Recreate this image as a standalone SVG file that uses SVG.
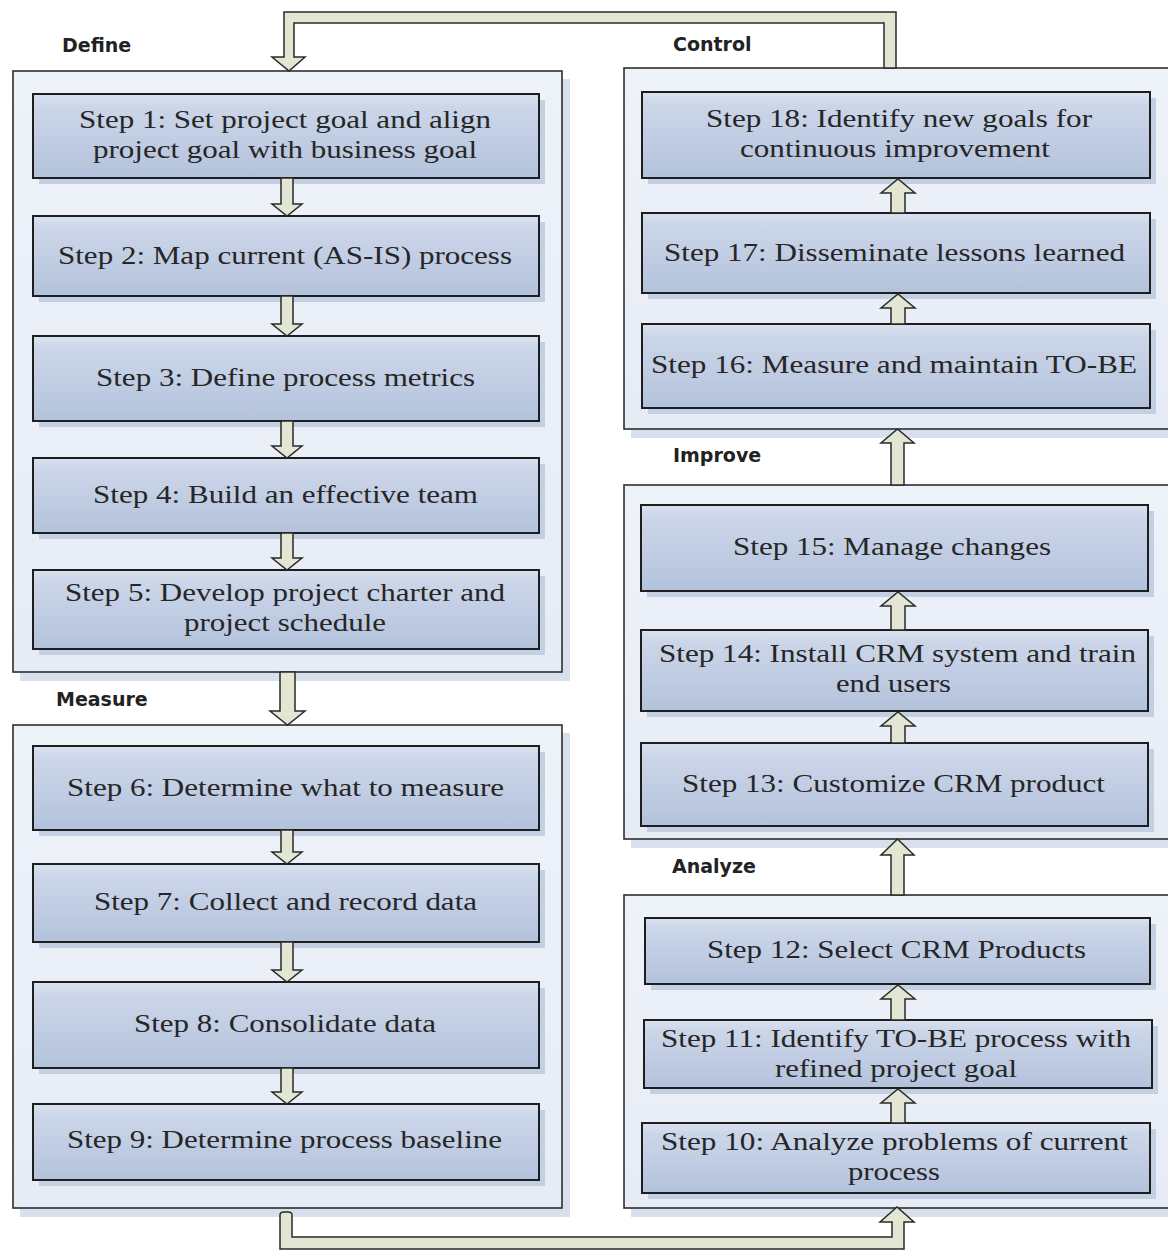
<svg xmlns="http://www.w3.org/2000/svg" width="1168" height="1250" viewBox="0 0 1168 1250">
<defs>
<linearGradient id="gStep" x1="0" y1="0" x2="0" y2="1">
<stop offset="0" stop-color="#dae2ef"/>
<stop offset="0.15" stop-color="#ccd6e9"/>
<stop offset="1" stop-color="#b3c2dc"/>
</linearGradient>
<linearGradient id="gCont" x1="0" y1="0" x2="0" y2="1">
<stop offset="0" stop-color="#eef2f9"/>
<stop offset="1" stop-color="#e6ecf6"/>
</linearGradient>
<style>
.cont{fill:url(#gCont);stroke:#2e2e2e;stroke-width:1.6}
.cshadow{fill:#d8e0ee}
.step{fill:url(#gStep);stroke:#1e1e1e;stroke-width:2}
.sshadow{fill:#c3cfe3}
.st{font-family:"Liberation Serif","Times New Roman",serif;font-size:26px;fill:#262626}
.lb{font-family:"DejaVu Sans","Verdana",sans-serif;font-weight:bold;font-size:19px;fill:#222}
.arr{fill:#e2e6d3;stroke:#2a2a2a;stroke-width:1.5;stroke-linejoin:miter}
</style>
</defs>
<rect width="1168" height="1250" fill="#ffffff"/>

<!-- phase containers -->
<g id="define">
<rect class="cshadow" x="20" y="79" width="550" height="602"/>
<rect class="cont" x="13" y="71" width="549" height="601"/>
<text class="lb" x="62" y="52">Define</text>
</g>
<g id="measure">
<rect class="cshadow" x="20" y="733" width="550" height="484"/>
<rect class="cont" x="13" y="725" width="549" height="483"/>
<text class="lb" x="56" y="706">Measure</text>
</g>
<g id="control">
<rect class="cshadow" x="631" y="76" width="560" height="362"/>
<rect class="cont" x="624" y="68" width="560" height="361"/>
<text class="lb" x="673" y="51">Control</text>
</g>
<g id="improve">
<rect class="cshadow" x="631" y="493" width="560" height="355"/>
<rect class="cont" x="624" y="485" width="560" height="354"/>
<text class="lb" x="673" y="462">Improve</text>
</g>
<g id="analyze">
<rect class="cshadow" x="631" y="903" width="560" height="314"/>
<rect class="cont" x="624" y="895" width="560" height="313"/>
<text class="lb" x="672" y="873">Analyze</text>
</g>

<!-- steps, left column -->
<g id="step1">
<rect class="sshadow" x="39" y="100" width="506" height="84"/>
<rect class="step" x="33" y="94" width="506" height="84"/>
<text class="st" x="79" y="128" textLength="412" lengthAdjust="spacingAndGlyphs">Step 1: Set project goal and align</text>
<text class="st" x="93" y="158" textLength="384" lengthAdjust="spacingAndGlyphs">project goal with business goal</text>
</g>
<g id="step2">
<rect class="sshadow" x="39" y="222" width="506" height="80"/>
<rect class="step" x="33" y="216" width="506" height="80"/>
<text class="st" x="58" y="264" textLength="454" lengthAdjust="spacingAndGlyphs">Step 2: Map current (AS-IS) process</text>
</g>
<g id="step3">
<rect class="sshadow" x="39" y="342" width="506" height="85"/>
<rect class="step" x="33" y="336" width="506" height="85"/>
<text class="st" x="96" y="386" textLength="379" lengthAdjust="spacingAndGlyphs">Step 3: Define process metrics</text>
</g>
<g id="step4">
<rect class="sshadow" x="39" y="464" width="506" height="75"/>
<rect class="step" x="33" y="458" width="506" height="75"/>
<text class="st" x="93" y="503" textLength="385" lengthAdjust="spacingAndGlyphs">Step 4: Build an effective team</text>
</g>
<g id="step5">
<rect class="sshadow" x="39" y="576" width="506" height="79"/>
<rect class="step" x="33" y="570" width="506" height="79"/>
<text class="st" x="65" y="601" textLength="440" lengthAdjust="spacingAndGlyphs">Step 5: Develop project charter and</text>
<text class="st" x="184" y="631" textLength="202" lengthAdjust="spacingAndGlyphs">project schedule</text>
</g>
<g id="step6">
<rect class="sshadow" x="39" y="752" width="506" height="84"/>
<rect class="step" x="33" y="746" width="506" height="84"/>
<text class="st" x="67" y="796" textLength="437" lengthAdjust="spacingAndGlyphs">Step 6: Determine what to measure</text>
</g>
<g id="step7">
<rect class="sshadow" x="39" y="870" width="506" height="78"/>
<rect class="step" x="33" y="864" width="506" height="78"/>
<text class="st" x="94" y="910" textLength="383" lengthAdjust="spacingAndGlyphs">Step 7: Collect and record data</text>
</g>
<g id="step8">
<rect class="sshadow" x="39" y="988" width="506" height="86"/>
<rect class="step" x="33" y="982" width="506" height="86"/>
<text class="st" x="134" y="1032" textLength="302" lengthAdjust="spacingAndGlyphs">Step 8: Consolidate data</text>
</g>
<g id="step9">
<rect class="sshadow" x="39" y="1110" width="506" height="76"/>
<rect class="step" x="33" y="1104" width="506" height="76"/>
<text class="st" x="67" y="1148" textLength="435" lengthAdjust="spacingAndGlyphs">Step 9: Determine process baseline</text>
</g>

<!-- steps, right column -->
<g id="step18">
<rect class="sshadow" x="648" y="98" width="508" height="86"/>
<rect class="step" x="642" y="92" width="508" height="86"/>
<text class="st" x="706" y="127" textLength="386" lengthAdjust="spacingAndGlyphs">Step 18: Identify new goals for</text>
<text class="st" x="740" y="157" textLength="310" lengthAdjust="spacingAndGlyphs">continuous improvement</text>
</g>
<g id="step17">
<rect class="sshadow" x="648" y="219" width="508" height="80"/>
<rect class="step" x="642" y="213" width="508" height="80"/>
<text class="st" x="664" y="261" textLength="461" lengthAdjust="spacingAndGlyphs">Step 17: Disseminate lessons learned</text>
</g>
<g id="step16">
<rect class="sshadow" x="648" y="330" width="508" height="84"/>
<rect class="step" x="642" y="324" width="508" height="84"/>
<text class="st" x="651" y="373" textLength="486" lengthAdjust="spacingAndGlyphs">Step 16: Measure and maintain TO-BE</text>
</g>
<g id="step15">
<rect class="sshadow" x="647" y="511" width="507" height="86"/>
<rect class="step" x="641" y="505" width="507" height="86"/>
<text class="st" x="733" y="555" textLength="318" lengthAdjust="spacingAndGlyphs">Step 15: Manage changes</text>
</g>
<g id="step14">
<rect class="sshadow" x="647" y="636" width="507" height="81"/>
<rect class="step" x="641" y="630" width="507" height="81"/>
<text class="st" x="659" y="662" textLength="477" lengthAdjust="spacingAndGlyphs">Step 14: Install CRM system and train</text>
<text class="st" x="836" y="692" textLength="115" lengthAdjust="spacingAndGlyphs">end users</text>
</g>
<g id="step13">
<rect class="sshadow" x="647" y="749" width="507" height="83"/>
<rect class="step" x="641" y="743" width="507" height="83"/>
<text class="st" x="682" y="792" textLength="423" lengthAdjust="spacingAndGlyphs">Step 13: Customize CRM product</text>
</g>
<g id="step12">
<rect class="sshadow" x="651" y="924" width="505" height="66"/>
<rect class="step" x="645" y="918" width="505" height="66"/>
<text class="st" x="707" y="958" textLength="379" lengthAdjust="spacingAndGlyphs">Step 12: Select CRM Products</text>
</g>
<g id="step11">
<rect class="sshadow" x="650" y="1026" width="508" height="68"/>
<rect class="step" x="644" y="1020" width="508" height="68"/>
<text class="st" x="661" y="1047" textLength="470" lengthAdjust="spacingAndGlyphs">Step 11: Identify TO-BE process with</text>
<text class="st" x="775" y="1077" textLength="242" lengthAdjust="spacingAndGlyphs">refined project goal</text>
</g>
<g id="step10">
<rect class="sshadow" x="648" y="1129" width="508" height="70"/>
<rect class="step" x="642" y="1123" width="508" height="70"/>
<text class="st" x="661" y="1150" textLength="467" lengthAdjust="spacingAndGlyphs">Step 10: Analyze problems of current</text>
<text class="st" x="848" y="1180" textLength="92" lengthAdjust="spacingAndGlyphs">process</text>
</g>

<!-- connectors -->
<g id="connectors">
<!-- top loop: Control to Define -->
<path class="arr" d="M884,68 L884,23 L294,23 L294,57 L305,57 L289,71 L272,57 L284,57 L284,12 L896,12 L896,68 Z"/>
<!-- bottom loop: Measure to Analyze -->
<path class="arr" d="M280,1215 Q280,1212 284,1212 L288,1212 Q292,1212 292,1215 L292,1237 L892,1237 L892,1222 L880,1222 L897,1207 L914,1222 L904,1222 L904,1249 L280,1249 Z"/>
<!-- Define to Measure -->
<path class="arr" d="M280,672 L295,672 L295,711 L305,711 L287.5,725 L270,711 L280,711 Z"/>
<!-- Improve to Control -->
<path class="arr" d="M891,485 L904,485 L904,443 L914,443 L897.5,429 L881,443 L891,443 Z"/>
<!-- Analyze to Improve -->
<path class="arr" d="M891,895 L904,895 L904,855 L914,855 L897.5,839 L881,855 L891,855 Z"/>
<!-- left column down arrows -->
<path class="arr" d="M281,178 L293,178 L293,204 L302,204 L287,216 L272,204 L281,204 Z"/>
<path class="arr" d="M281,296 L293,296 L293,324 L302,324 L287,336 L272,324 L281,324 Z"/>
<path class="arr" d="M281,421 L293,421 L293,446 L302,446 L287,458 L272,446 L281,446 Z"/>
<path class="arr" d="M281,533 L293,533 L293,558 L302,558 L287,570 L272,558 L281,558 Z"/>
<path class="arr" d="M281,830 L293,830 L293,852 L302,852 L287,864 L272,852 L281,852 Z"/>
<path class="arr" d="M281,942 L293,942 L293,970 L302,970 L287,982 L272,970 L281,970 Z"/>
<path class="arr" d="M281,1068 L293,1068 L293,1092 L302,1092 L287,1104 L272,1092 L281,1092 Z"/>
<!-- right column up arrows -->
<path class="arr" d="M891,213 L905,213 L905,193 L915,193 L898,179 L881,193 L891,193 Z"/>
<path class="arr" d="M891,324 L905,324 L905,308 L915,308 L898,294 L881,308 L891,308 Z"/>
<path class="arr" d="M891,630 L905,630 L905,606 L915,606 L898,592 L881,606 L891,606 Z"/>
<path class="arr" d="M891,743 L905,743 L905,726 L915,726 L898,712 L881,726 L891,726 Z"/>
<path class="arr" d="M891,1020 L905,1020 L905,999 L915,999 L898,985 L881,999 L891,999 Z"/>
<path class="arr" d="M891,1123 L905,1123 L905,1103 L915,1103 L898,1089 L881,1103 L891,1103 Z"/>
</g>
</svg>
